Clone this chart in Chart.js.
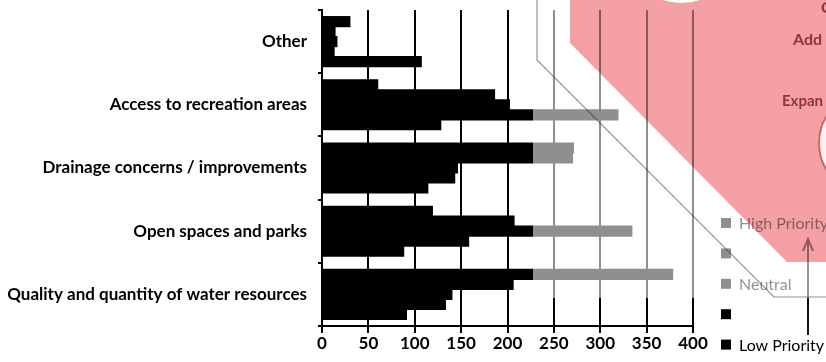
<!DOCTYPE html>
<html>
<head>
<meta charset="utf-8">
<script src="https://cdn.jsdelivr.net/npm/chart.js@4"></script>
<style>
  html, body { margin: 0; padding: 0; background: #fff; }
  #wrap { width: 826px; height: 362px; position: relative; }
</style>
</head>
<body>
<div id="wrap"><canvas id="c" width="826" height="362"></canvas></div>
<script>
// Survey categories, listed top to bottom
const categories = [
  'Other',
  'Access to recreation areas',
  'Drainage concerns / improvements',
  'Open spaces and parks',
  'Quality and quantity of water resources'
];

// Response counts per priority level (one bar per level in each group)
const highPriority = [30, 60, 271, 119, 378];
const priority2    = [14, 186, 270, 207, 206];
const neutral      = [16, 202, 146, 334, 140];
const priority4    = [13, 319, 143, 158, 133];
const lowPriority  = [107, 128, 114, 88, 91];

const seriesLabels = ['High Priority', '', 'Neutral', '', 'Low Priority'];
const seriesValues = [highPriority, priority2, neutral, priority4, lowPriority];

const xMin = 0, xMax = 400, xStep = 50;

const FONT = 'Lato, "Open Sans", sans-serif';

const datasets = seriesValues.map((vals, i) => ({
  label: seriesLabels[i],
  data: vals,
  backgroundColor: '#000',
  borderWidth: 0,
  inflateAmount: 0.6,
  barPercentage: 1.0,
  categoryPercentage: 0.79
}));

// White page background
const bgPlugin = {
  id: 'bg',
  beforeDraw(chart) {
    const ctx = chart.ctx;
    ctx.save();
    ctx.fillStyle = '#fff';
    ctx.fillRect(0, 0, chart.width, chart.height);
    ctx.restore();
  }
};

// Vertical legend on the right plus the slide overlay on top of the chart
const legendAndOverlay = {
  id: 'legendAndOverlay',
  afterDraw(chart) {
    const ctx = chart.ctx;
    ctx.save();

    // legend
    const lx = 721, ly0 = 223, lstep = 30.4, box = 10;
    ctx.font = '16px ' + FONT;
    ctx.textBaseline = 'middle';
    ctx.textAlign = 'left';
    chart.data.datasets.forEach((ds, i) => {
      const cy = ly0 + i * lstep;
      ctx.fillStyle = ds.backgroundColor;
      ctx.fillRect(lx, cy - box / 2, box, box);
      ctx.fillStyle = '#000';
      ctx.fillText(ds.label, lx + 18, cy + 1);
    });

    // arrow
    ctx.strokeStyle = '#111';
    ctx.lineWidth = 2;
    ctx.beginPath();
    ctx.moveTo(808, 335);
    ctx.lineTo(808, 240);
    ctx.stroke();
    ctx.beginPath();
    ctx.moveTo(803, 251);
    ctx.lineTo(808, 239);
    ctx.lineTo(813, 251);
    ctx.stroke();

    // translucent white panel
    ctx.fillStyle = 'rgba(255,255,255,0.56)';
    ctx.fillRect(533, 0, 826 - 533, 298);

    // pink shape (multiplied over what is below)
    ctx.globalCompositeOperation = 'multiply';
    ctx.fillStyle = '#f5a0a5';
    ctx.beginPath();
    ctx.moveTo(570, 0);
    ctx.lineTo(570, 43);
    ctx.lineTo(787, 262);
    ctx.lineTo(826, 262);
    ctx.lineTo(826, 0);
    ctx.closePath();
    ctx.fill();
    ctx.globalCompositeOperation = 'source-over';

    // white circles
    ctx.fillStyle = '#fff';
    ctx.beginPath();
    ctx.arc(681.5, -55.5, 58.5, 0, Math.PI * 2);
    ctx.fill();
    ctx.fillStyle = '#fcf1f2';
    ctx.strokeStyle = '#c46a74';
    ctx.lineWidth = 2;
    ctx.beginPath();
    ctx.arc(870, 143, 51, 0, Math.PI * 2);
    ctx.fill();
    ctx.stroke();

    // thin outline
    ctx.strokeStyle = 'rgba(40,40,40,0.5)';
    ctx.lineWidth = 1.2;
    ctx.beginPath();
    ctx.moveTo(537, 0);
    ctx.lineTo(537, 60);
    ctx.lineTo(774, 297);
    ctx.lineTo(826, 297);
    ctx.stroke();

    // text fragments on the pink shape
    ctx.fillStyle = '#8e3540';
    ctx.font = 'bold 16px ' + FONT;
    ctx.textBaseline = 'alphabetic';
    ctx.fillText('C', 821, 13);
    ctx.fillText('Add', 793, 45);
    ctx.font = 'bold 15px ' + FONT;
    ctx.fillText('Expan', 782, 106);

    ctx.restore();
  }
};

new Chart(document.getElementById('c'), {
  type: 'bar',
  data: { labels: categories, datasets },
  plugins: [bgPlugin, legendAndOverlay],
  options: {
    indexAxis: 'y',
    responsive: false,
    animation: false,
    devicePixelRatio: 1,
    layout: { padding: { top: 10, right: 133, left: 0, bottom: 0 } },
    plugins: {
      legend: { display: false },
      tooltip: { enabled: false }
    },
    scales: {
      x: {
        type: 'linear',
        min: xMin,
        max: xMax,
        afterFit(scale) { scale.height = 36; },
        ticks: {
          stepSize: xStep,
          color: '#000',
          padding: 0,
          font: { family: FONT, size: 17, weight: 'bold' }
        },
        grid: {
          color: '#000',
          lineWidth: 2,
          tickLength: 7,
          tickColor: '#000'
        },
        border: { color: '#000', width: 2 }
      },
      y: {
        type: 'category',
        afterFit(scale) {
          scale.width = 322;
          scale.paddingTop = 0;
          scale.paddingBottom = 0;
        },
        ticks: {
          color: '#000',
          padding: 11,
          font: { family: FONT, size: 17, weight: 'bold' }
        },
        grid: {
          display: true,
          drawOnChartArea: false,
          color: '#000',
          lineWidth: 2,
          tickLength: 4,
          offset: true
        },
        border: { color: '#000', width: 2 }
      }
    }
  }
});
</script>
</body>
</html>
